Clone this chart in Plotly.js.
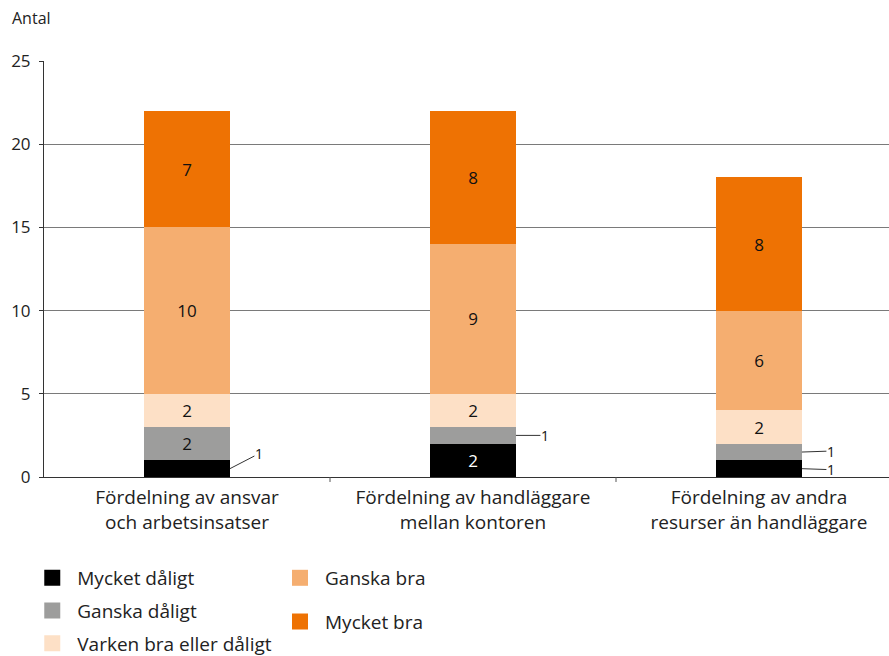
<!DOCTYPE html>
<html>
<head>
<meta charset="utf-8">
<script src="https://cdn.plot.ly/plotly-3.0.1.min.js"></script>
<style>
  html, body { margin: 0; padding: 0; background: #fff; overflow: hidden; }
  #chart { width: 889px; height: 680px; }
</style>
</head>
<body>
<div id="chart"></div>
<script>
// Kategorier (x-axelns etiketter)
const categories = [
  'Fördelning av ansvar<br>och arbetsinsatser',
  'Fördelning av handläggare<br>mellan kontoren',
  'Fördelning av andra<br>resurser än handläggare'
];

// Svarsalternativ (serier), nerifrån och upp i staplarna
const seriesNames = [
  'Mycket dåligt',
  'Ganska dåligt',
  'Varken bra eller dåligt',
  'Ganska bra',
  'Mycket bra'
];

// Antal svar per kategori
const mycketDaligt = [1, 2, 1];
const ganskaDaligt = [2, 1, 1];
const varken       = [2, 2, 2];
const ganskaBra    = [10, 9, 6];
const mycketBra    = [7, 8, 8];

const yTicks = [0, 5, 10, 15, 20, 25];

const seriesValues = [mycketDaligt, ganskaDaligt, varken, ganskaBra, mycketBra];
const seriesColors = ['#000000', '#9d9d9c', '#fde0c6', '#f5ae70', '#ee7203'];
const labelColors  = ['#ffffff', '#111111', '#111111', '#111111', '#111111'];

const FONT = '"Open Sans", "Noto Sans", sans-serif';
const BAR_WIDTH = 0.3;

const xIdx = categories.map((_, i) => i);
const traces = [];
const annotations = [];

// Small segments (value 1) get their label outside, with a leader line
const leaderOffsets = [
  [[29, -15]],
  [[29, 0]],
  [[29, 1], [29, -1]]
];
const leaderCount = [0, 0, 0];

const base = categories.map(() => 0);
seriesValues.forEach((vals, s) => {
  traces.push({
    type: 'bar',
    x: xIdx,
    y: vals,
    width: BAR_WIDTH,
    marker: { color: seriesColors[s], line: { width: 0 } },
    text: vals.map(v => (v > 1 ? String(v) : '')),
    textposition: 'inside',
    insidetextanchor: 'middle',
    textangle: 0,
    constraintext: 'none',
    textfont: { family: FONT, size: 17, color: labelColors[s] },
    hoverinfo: 'skip',
    showlegend: false
  });
  vals.forEach((v, i) => {
    if (v <= 1) {
      const off = leaderOffsets[i][leaderCount[i]++];
      annotations.push({
        x: i + BAR_WIDTH / 2,
        y: base[i] + v / 2,
        xref: 'x', yref: 'y',
        text: String(v),
        showarrow: true,
        arrowhead: 0,
        arrowwidth: 1,
        arrowcolor: '#333333',
        ax: off[0], ay: off[1],
        standoff: 0,
        startstandoff: 0,
        borderpad: 0,
        font: { family: FONT, size: 14, color: '#111111' }
      });
    }
    base[i] += v;
  });
});

// Legend entries (two columns)
seriesNames.forEach((name, s) => {
  traces.push({
    type: 'scatter',
    mode: 'markers',
    x: [null], y: [null],
    name: name,
    marker: { symbol: 'square', size: 16, color: seriesColors[s] },
    legend: s < 3 ? 'legend' : 'legend2',
    legendgroup: 'g' + s,
    hoverinfo: 'skip'
  });
});

annotations.push({
  text: 'Antal',
  xref: 'paper', yref: 'paper',
  x: -0.040, y: 1.103,
  xanchor: 'left', yanchor: 'middle',
  showarrow: false,
  font: { family: FONT, size: 16, color: '#222222' }
});

const layout = {
  width: 889,
  height: 680,
  margin: { l: 44, r: 0, t: 61, b: 203 },
  paper_bgcolor: '#ffffff',
  plot_bgcolor: '#ffffff',
  barmode: 'stack',
  font: { family: FONT, color: '#222222' },
  xaxis: {
    type: 'linear',
    range: [-0.5, 2.4545],
    tickmode: 'array',
    tickvals: xIdx,
    ticktext: categories,
    ticks: '',
    showgrid: false,
    zeroline: false,
    showline: true,
    linecolor: '#333333',
    linewidth: 1,
    tickfont: { family: FONT, size: 19, color: '#222222' },
    ticklabelstandoff: 3,
    fixedrange: true
  },
  yaxis: {
    range: [0, 25],
    tickmode: 'array',
    tickvals: yTicks,
    ticktext: yTicks.map(String),
    ticks: 'outside',
    ticklen: 4,
    tickcolor: '#333333',
    showline: true,
    linecolor: '#333333',
    linewidth: 1,
    showgrid: true,
    gridcolor: '#7a7a7a',
    gridwidth: 1,
    zeroline: false,
    tickfont: { family: FONT, size: 17, color: '#222222' },
    ticklabelstandoff: 5,
    fixedrange: true
  },
  // boundary ticks between categories
  shapes: [0.5, 1.5].map(b => ({
    type: 'line', xref: 'x', yref: 'paper',
    x0: b, x1: b, y0: 0, y1: -0.012,
    line: { color: '#555555', width: 1 }
  })),
  legend: {
    x: -0.0198, y: -0.197, xanchor: 'left', yanchor: 'top',
    orientation: 'v',
    itemwidth: 40,
    tracegroupgap: 5,
    font: { family: FONT, size: 19, color: '#222222' },
    bgcolor: 'rgba(0,0,0,0)'
  },
  legend2: {
    x: 0.2734, y: -0.197, xanchor: 'left', yanchor: 'top',
    orientation: 'v',
    itemwidth: 40,
    tracegroupgap: 16,
    font: { family: FONT, size: 19, color: '#222222' },
    bgcolor: 'rgba(0,0,0,0)'
  },
  annotations: annotations
};

Plotly.newPlot('chart', traces, layout, { displayModeBar: false, staticPlot: true });
</script>
</body>
</html>
